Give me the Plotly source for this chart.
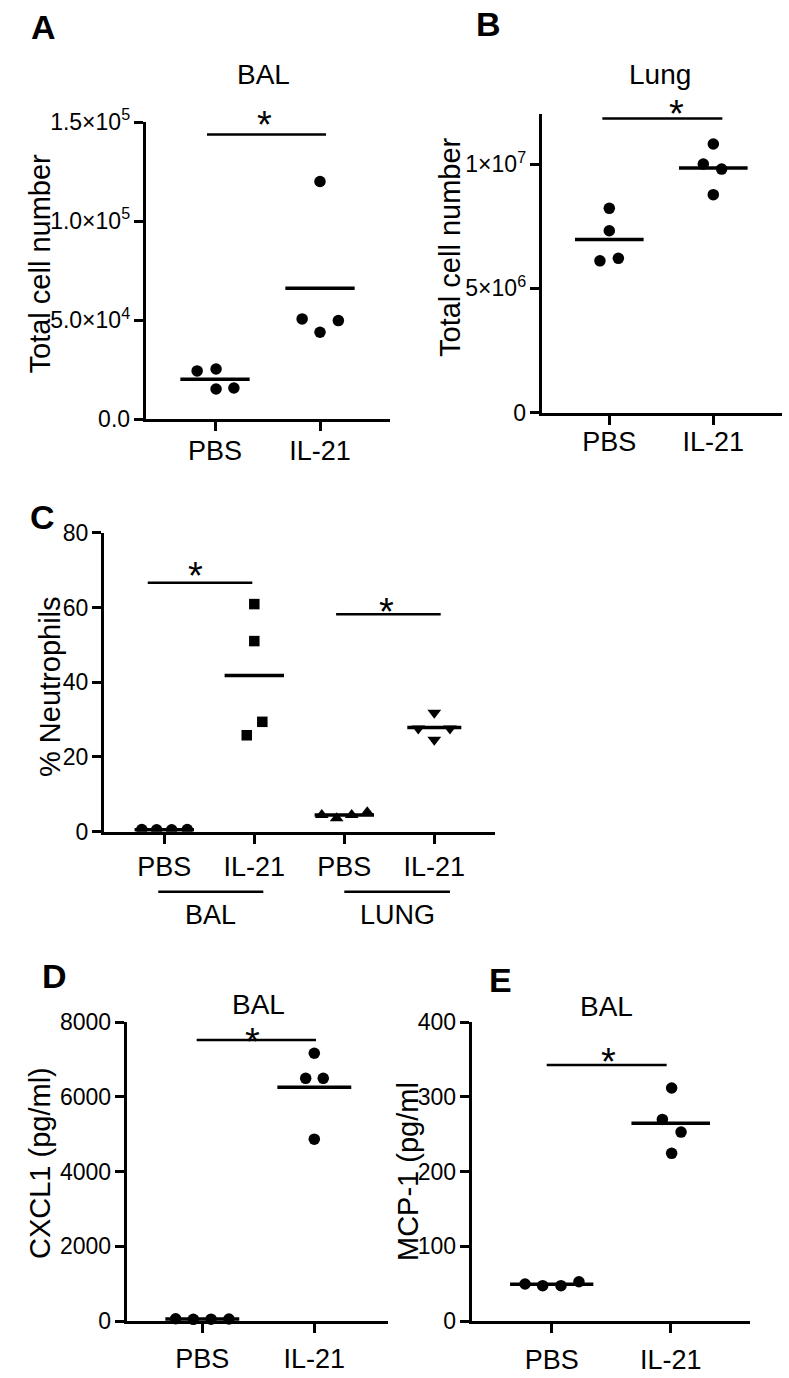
import plotly.graph_objects as go
import numpy as np

# ---------------- data ----------------
groups = ["PBS", "IL-21"]
groups_c = ["PBS", "IL-21", "PBS", "IL-21"]
c_tissues = ["BAL", "LUNG"]

# A: BAL total cell number
bal_cells_pbs = [24400, 25400, 15300, 15800]
bal_cells_il21 = [120000, 50650, 49800, 43900]
# B: Lung total cell number
lung_cells_pbs = [8.22e6, 7.32e6, 6.11e6, 6.21e6]
lung_cells_il21 = [10.81e6, 10.0e6, 9.80e6, 8.77e6]
# C: % Neutrophils
neut_bal_pbs = [0.6, 0.5, 0.5, 0.6]
neut_bal_il21 = [60.9, 51.0, 29.4, 25.8]
neut_lung_pbs = [4.5, 3.6, 4.5, 5.2]
neut_lung_il21 = [31.8, 27.6, 27.6, 24.6]
# D: CXCL1 (pg/ml)
cxcl1_pbs = [60, 45, 50, 55]
cxcl1_il21 = [7170, 6500, 6500, 4870]
# E: MCP-1 (pg/ml)
mcp1_pbs = [49.5, 47.3, 47.3, 52.6]
mcp1_il21 = [312, 270, 253, 224.5]

# tick labels
a_tickvals = [0, 50000, 100000, 150000]
a_ticktext = ["0.0", "5.0×10<sup>4</sup>", "1.0×10<sup>5</sup>", "1.5×10<sup>5</sup>"]
b_tickvals = [0, 5e6, 1e7]
b_ticktext = ["0", "5×10<sup>6</sup>", "1×10<sup>7</sup>"]
c_tickvals = [0, 20, 40, 60, 80]
d_tickvals = [0, 2000, 4000, 6000, 8000]
e_tickvals = [0, 100, 200, 300, 400]

# ---------------- layout / style ----------------
W, H = 789, 1378
FONT = "Liberation Sans, Arial, Helvetica, sans-serif"


def px(x):
    return x / W


def py(y):
    return 1 - y / H


# horizontal jitter of the dots within a column (layout only)
jit_a = ([-0.17, 0.01, 0.01, 0.18], [0.0, -0.17, 0.175, 0.0])
jit_b = ([0.0, 0.0, -0.09, 0.087], [0.0, -0.096, 0.08, 0.0])
jit_c = ([-0.25, -0.085, 0.082, 0.255], [0.0, 0.0, 0.089, -0.084],
         [-0.25, -0.085, 0.082, 0.255], [0.0, -0.178, 0.174, 0.0])
jit_d = ([-0.238, -0.08, 0.078, 0.238], [0.0, -0.077, 0.08, 0.0])
jit_e = ([-0.224, -0.076, 0.078, 0.229], [0.008, -0.07, 0.087, 0.008])

MEAN_HALF = 0.33

fig = go.Figure()


def add_column(xa, ya, pos, values, jitter, symbol="circle", size=11.5, clip=False, half=MEAN_HALF):
    xs = [pos + d for d in jitter]
    fig.add_trace(go.Scatter(
        x=xs, y=values, mode="markers", xaxis=xa, yaxis=ya,
        marker=dict(symbol=symbol, size=size, color="black", line=dict(width=0)),
        cliponaxis=clip, showlegend=False, hoverinfo="y"))
    m = float(np.mean(values))
    fig.add_trace(go.Scatter(
        x=[pos - half, pos + half], y=[m, m], mode="lines", xaxis=xa, yaxis=ya,
        line=dict(color="black", width=3.5), cliponaxis=clip,
        showlegend=False, hoverinfo="skip"))


# A
add_column("x", "y", 1, bal_cells_pbs, jit_a[0])
add_column("x", "y", 2, bal_cells_il21, jit_a[1])
# B
add_column("x2", "y2", 1, lung_cells_pbs, jit_b[0])
add_column("x2", "y2", 2, lung_cells_il21, jit_b[1])
# C
add_column("x3", "y3", 1, neut_bal_pbs, jit_c[0], "circle", 11.5, clip=True)
add_column("x3", "y3", 2, neut_bal_il21, jit_c[1], "square", 10.5)
add_column("x3", "y3", 3, neut_lung_pbs, jit_c[2], "triangle-up", 12)
add_column("x3", "y3", 4, neut_lung_il21, jit_c[3], "triangle-down", 12, half=0.30)
# D
add_column("x4", "y4", 1, cxcl1_pbs, jit_d[0])
add_column("x4", "y4", 2, cxcl1_il21, jit_d[1])
# E
add_column("x5", "y5", 1, mcp1_pbs, jit_e[0], half=0.35)
add_column("x5", "y5", 2, mcp1_il21, jit_e[1])

axis_common = dict(showline=True, linecolor="black", linewidth=3, ticks="outside",
                   ticklen=9, tickwidth=3, tickcolor="black", showgrid=False,
                   zeroline=False, fixedrange=True, automargin=False)
xt_font = dict(family=FONT, size=27, color="black")
yt_font = dict(family=FONT, size=23, color="black")


def xaxis_cfg(left, right, t1, step, ntick, labels, anchor, standoff):
    lo = 1 + (left - t1) / step
    hi = 1 + (right - t1) / step
    return dict(axis_common, domain=[px(left), px(right)], range=[lo, hi],
                tickvals=list(range(1, ntick + 1)), ticktext=labels,
                tickfont=xt_font, anchor=anchor, ticklabelstandoff=standoff)


def yaxis_cfg(bottom, top, rng, tickvals, ticktext, anchor, standoff=-1):
    d = dict(axis_common, domain=[py(bottom), py(top)], range=rng,
             tickvals=tickvals, tickfont=yt_font, anchor=anchor,
             ticklabelstandoff=standoff)
    if ticktext is not None:
        d["ticktext"] = ticktext
    return d


layout = dict(
    width=W, height=H, margin=dict(l=0, r=0, t=0, b=0, autoexpand=False),
    template=None,
    paper_bgcolor="white", plot_bgcolor="white", showlegend=False,
    font=dict(family=FONT, color="black"),
    xaxis=xaxis_cfg(145.7, 390, 215, 105, 2, groups, "y", -4),
    yaxis=yaxis_cfg(419.3, 122, [0, 150000], a_tickvals, a_ticktext, "x"),
    xaxis2=xaxis_cfg(541.7, 781.7, 609.3, 104, 2, groups, "y2", -6),
    yaxis2=yaxis_cfg(412.7, 114.4, [0, 1.2e7], b_tickvals, b_ticktext, "x2"),
    xaxis3=xaxis_cfg(104, 495, 164.3, 90, 4, groups_c, "y3", 0),
    yaxis3=yaxis_cfg(831.7, 532.7, [0, 80], c_tickvals, None, "x3"),
    xaxis4=xaxis_cfg(126.7, 388.3, 202.3, 112, 2, groups, "y4", 3),
    yaxis4=yaxis_cfg(1321, 1022.3, [0, 8000], d_tickvals, None, "x4"),
    xaxis5=xaxis_cfg(471.7, 750, 551.7, 119, 2, groups, "y5", 4),
    yaxis5=yaxis_cfg(1321, 1022.3, [0, 400], e_tickvals, None, "x5"),
)
fig.update_layout(**layout)

# significance bars: (xref, yref, x0, x1, y, star_x, star_gap_px)
sig_bars = [
    ("x", "y", 0.924, 2.057, 143700, 1.467, 17.7),
    ("x2", "y2", 0.933, 2.087, 1.184e7, 1.648, 12.5),
    ("x3", "y3", 0.816, 1.978, 66.6, 1.349, 15.0),
    ("x3", "y3", 2.909, 4.071, 58.2, 3.471, 10.5),
    ("x4", "y4", 0.95, 2.015, 7523, 1.446, 6.5),
    ("x5", "y5", 0.958, 1.966, 342.7, 1.476, 11.0),
]
STAR_SIZE = 38
for xr, yr, x0, x1, yv, sx, gap in sig_bars:
    fig.add_shape(type="line", xref=xr, yref=yr, x0=x0, x1=x1, y0=yv, y1=yv,
                  line=dict(color="black", width=2.5))
    fig.add_annotation(xref=xr, yref=yr, x=sx, y=yv, text="*", showarrow=False,
                       xanchor="center", yanchor="middle",
                       yshift=gap - 0.22 * STAR_SIZE,
                       font=dict(family=FONT, size=STAR_SIZE, color="black"))

# group brackets under panel C
for (gx0, gx1), name in zip([(0.933, 2.10), (3.0, 4.174)], c_tissues):
    fig.add_shape(type="line", xref="x3", yref="paper", x0=gx0, x1=gx1,
                  y0=py(891.7), y1=py(891.7), line=dict(color="black", width=2.5))
    fig.add_annotation(xref="x3", yref="paper", x=(gx0 + gx1) / 2, y=py(915),
                       text=name, showarrow=False, xanchor="center", yanchor="middle",
                       font=dict(family=FONT, size=27, color="black"))

# panel titles
titles = [("BAL", 263, 74), ("Lung", 660, 74), ("BAL", 258, 1004), ("BAL", 606, 1006)]
for t, x, y in titles:
    fig.add_annotation(xref="paper", yref="paper", x=px(x), y=py(y), text=t,
                       showarrow=False, xanchor="center", yanchor="middle",
                       font=dict(family=FONT, size=28, color="black"))

# y-axis titles
ytitles = [("Total cell number", 40, 263.5), ("Total cell number", 450, 247),
           ("% Neutrophils", 50, 687), ("CXCL1 (pg/ml)", 40, 1163),
           ("MCP-1 (pg/ml", 408, 1172)]
for t, x, y in ytitles:
    fig.add_annotation(xref="paper", yref="paper", x=px(x), y=py(y), text=t,
                       textangle=-90, showarrow=False, xanchor="center",
                       yanchor="middle",
                       font=dict(family=FONT, size=29, color="black"))

# panel letters
letters = [("A", 43, 27), ("B", 488, 24), ("C", 42.5, 517), ("D", 54, 976), ("E", 500, 980)]
for t, x, y in letters:
    fig.add_annotation(xref="paper", yref="paper", x=px(x), y=py(y),
                       text="<b>%s</b>" % t, showarrow=False, xanchor="center",
                       yanchor="middle",
                       font=dict(family=FONT, size=34, color="black"))

fig.write_html("out.html", config={"displayModeBar": False},
               post_script="document.body.style.margin='0';")
